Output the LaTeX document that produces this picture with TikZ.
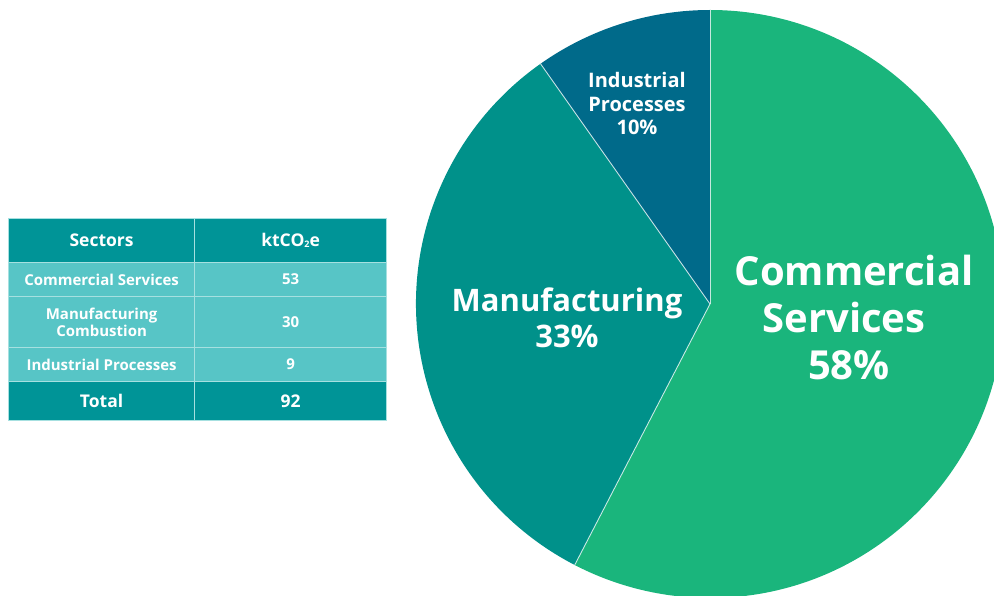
\documentclass[tikz,border=0pt]{standalone}
\usepackage{fontspec}
\setmainfont{Open Sans}
\begin{document}
\begin{tikzpicture}[x=1pt,y=1pt,
  hdr/.style={fill=hdrcol,draw=gridcol,line width=1.2pt,text=white,font=\fontsize{17.5}{20}\selectfont\bfseries,inner sep=0pt,anchor=north west},
  rowc/.style={fill=rowcol,draw=gridcol,line width=1.2pt,text=white,font=\fontsize{15}{17}\selectfont\bfseries,inner sep=0pt,anchor=north west,align=center},
  slicesep/.style={draw=white,draw opacity=0.75,line width=0.9pt},
  plabel/.style={text=white,align=center,inner sep=0pt}]
\definecolor{hdrcol}{HTML}{009497}
\definecolor{rowcol}{HTML}{57C5C6}
\definecolor{gridcol}{HTML}{A6E0E0}
\definecolor{comcol}{HTML}{1AB57C}
\definecolor{mancol}{HTML}{00918A}
\definecolor{indcol}{HTML}{006A8A}
\useasboundingbox (0,0) rectangle (994,595);
\begin{scope}
\clip (0,0) rectangle (994,595);
\coordinate (c) at (710,291);
\fill[comcol] (c) -- ++(90:294) arc[start angle=90,end angle=-117.4,radius=294] -- cycle;
\fill[mancol] (c) -- ++(242.6:294) arc[start angle=242.6,end angle=125.2,radius=294] -- cycle;
\fill[indcol] (c) -- ++(125.2:294) arc[start angle=125.2,end angle=90,radius=294] -- cycle;
\draw[slicesep] (c) -- ++(90:294);
\draw[slicesep] (c) -- ++(242.6:294);
\draw[slicesep] (c) -- ++(125.2:294);
\end{scope}
\node[plabel,font=\fontsize{40}{47}\selectfont\bfseries] (lcom) at (854,277) {Commercial\\Services\kern20pt\\58\%\kern10pt};
\node[plabel,font=\fontsize{31}{36}\selectfont\bfseries] (lman) at (567,277) {Manufacturing\\33\%};
\node[plabel,font=\fontsize{20}{23.5}\selectfont\bfseries] (lind) at (637,491) {Industrial\\Processes\\10\%};
% table
\node[hdr,minimum width=186pt,minimum height=44pt] (h1) at (8,377) {Sectors};
\node[hdr,minimum width=192pt,minimum height=44pt] (h2) at (194,377) {ktCO\raisebox{-1.5pt}{\fontsize{9}{9}\selectfont 2}e};
\node[rowc,minimum width=186pt,minimum height=34pt] (r1a) at (8,333) {Commercial Services};
\node[rowc,minimum width=192pt,minimum height=34pt] (r1b) at (194,333) {53};
\node[rowc,minimum width=186pt,minimum height=51pt] (r2a) at (8,299) {Manufacturing\\Combustion};
\node[rowc,minimum width=192pt,minimum height=51pt] (r2b) at (194,299) {30};
\node[rowc,minimum width=186pt,minimum height=34pt] (r3a) at (8,248) {Industrial Processes};
\node[rowc,minimum width=192pt,minimum height=34pt] (r3b) at (194,248) {9};
\node[hdr,minimum width=186pt,minimum height=39pt] (ta) at (8,214) {Total};
\node[hdr,minimum width=192pt,minimum height=39pt] (tb) at (194,214) {92};
\end{tikzpicture}
\end{document}
